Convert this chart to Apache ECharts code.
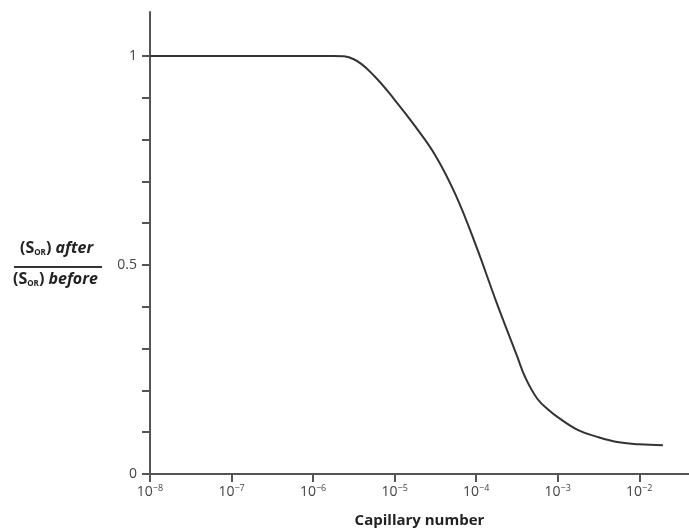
<!DOCTYPE html>
<html>
<head>
<meta charset="utf-8">
<script src="https://cdn.jsdelivr.net/npm/echarts@6/dist/echarts.min.js"></script>
<style>
  html, body { margin: 0; padding: 0; background: #fff; }
  #main { width: 689px; height: 530px; }
</style>
</head>
<body>
<div id="main"></div>
<script>
// capillary number (x) and residual oil ratio (y)
const capillary = [1e-8, 1e-7, 1e-6, 1.78e-6, 3.16e-6, 5.62e-6, 1e-5, 1.78e-5, 3.16e-5, 5.62e-5,
                   1e-4, 1.78e-4, 3.16e-4, 3.98e-4, 5.62e-4, 7.94e-4, 1e-3, 1.78e-3, 3.16e-3,
                   5.62e-3, 1e-2, 1.95e-2];
const sorRatio = [1, 1, 1, 1, 0.992, 0.952, 0.895, 0.832, 0.762, 0.667,
                  0.545, 0.41, 0.283, 0.232, 0.18, 0.151, 0.136, 0.105, 0.088,
                  0.076, 0.071, 0.069];
const yTicks = [0, 0.1, 0.2, 0.3, 0.4, 0.5, 0.6, 0.7, 0.8, 0.9, 1];
const yLabels = [0, 0.5, 1];

const chart = echarts.init(document.getElementById('main'));
const axisColor = '#555';
const textColor = '#444';
const nameRich = {
    a: { fontFamily: 'Open Sans', fontWeight: 'bold', fontSize: 16, fill: '#222' },
    i: { fontFamily: 'Open Sans', fontWeight: 'bold', fontStyle: 'italic', fontSize: 16, fill: '#222' },
    s: { fontFamily: 'Open Sans', fontWeight: 'bold', fontSize: 8, fill: '#222', padding: [10, 0, 0, 0] }
};

const option = {
    animation: false,
    grid: { left: 150, right: 0, top: 12, bottom: 56, outerBoundsMode: 'none' },
    xAxis: {
        type: 'log',
        logBase: 10,
        min: 1e-8,
        max: Math.pow(10, -1.39),
        splitNumber: 7,
        name: 'Capillary number',
        nameLocation: 'middle',
        nameGap: 39,
        nameTextStyle: { fontFamily: 'Open Sans', fontWeight: 'bold', fontSize: 15, color: '#222' },
        axisLine: { lineStyle: { color: axisColor, width: 2 } },
        axisTick: { show: true, length: 8, lineStyle: { color: axisColor, width: 2 } },
        splitLine: { show: false },
        axisLabel: {
            margin: 10,
            showMaxLabel: false,
            formatter: function (v) {
                const e = Math.round(Math.log10(v));
                if (Math.abs(Math.log10(v) - e) > 1e-6) return '';
                return '{b|10}{s|' + e.toString().replace('-', '\u2212') + '}';
            },
            rich: {
                b: { fontFamily: 'Open Sans', fontSize: 14, color: textColor },
                s: { fontFamily: 'Open Sans', fontSize: 9, color: textColor, verticalAlign: 'top', padding: [0, 0, 8, 0] }
            }
        }
    },
    yAxis: {
        type: 'value',
        min: 0,
        max: 1.105,
        axisLine: { show: true, lineStyle: { color: axisColor, width: 2 } },
        axisTick: { show: true, length: 8, customValues: yTicks, lineStyle: { color: axisColor, width: 2 } },
        splitLine: { show: false },
        axisLabel: {
            customValues: yLabels,
            margin: 13,
            fontFamily: 'Open Sans',
            fontSize: 14,
            color: textColor
        }
    },
    graphic: [
        {
            type: 'text', left: 20, top: 240,
            style: { text: '{a|(S}{s|OR}{a|) }{i|after}', rich: nameRich }
        },
        {
            type: 'line',
            shape: { x1: 14, y1: 267, x2: 102, y2: 267 },
            style: { stroke: '#333', lineWidth: 2 }
        },
        {
            type: 'text', left: 13, top: 271,
            style: { text: '{a|(S}{s|OR}{a|) }{i|before}', rich: nameRich }
        }
    ],
    series: [
        {
            type: 'line',
            smooth: 0.4,
            symbol: 'none',
            lineStyle: { color: '#333', width: 2 },
            data: capillary.map((c, i) => [c, sorRatio[i]])
        }
    ]
};

chart.setOption(option);
window.addEventListener('resize', () => {
    chart.resize();
});
</script>
</body>
</html>
